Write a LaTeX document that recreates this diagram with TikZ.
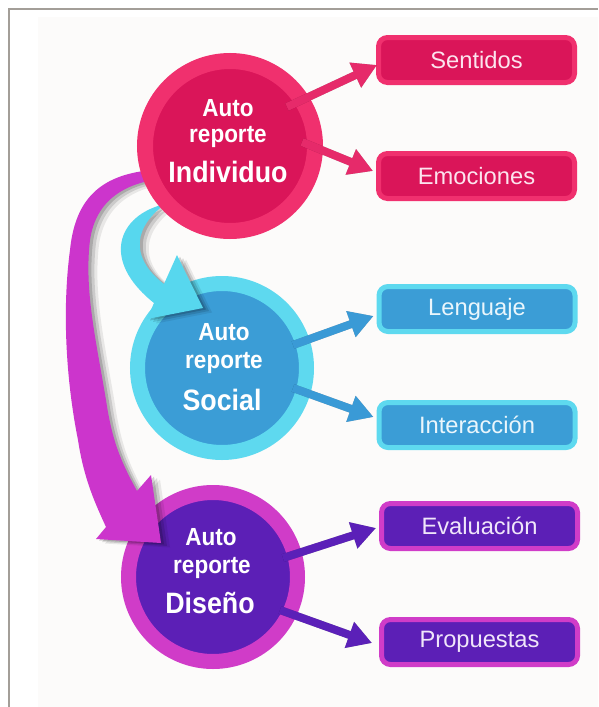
\documentclass[tikz,border=0pt]{standalone}
\usepackage{fontspec}
\setmainfont{Liberation Sans}
\usetikzlibrary{arrows.meta,calc}
\definecolor{pinkring}{HTML}{F0306E}
\definecolor{pinkin}{HTML}{DA1559}
\definecolor{pinkarrow}{HTML}{E62A6A}
\definecolor{pinktext}{HTML}{FCE4EE}
\definecolor{cyanring}{HTML}{5ED9EF}
\definecolor{bluein}{HTML}{3B9DD6}
\definecolor{bluearrow}{HTML}{3A9AD6}
\definecolor{bluetext}{HTML}{EAF6FC}
\definecolor{magring}{HTML}{D03CC8}
\definecolor{purpin}{HTML}{5C1FB6}
\definecolor{purparrow}{HTML}{5B20B8}
\definecolor{purptext}{HTML}{F0E6FA}
\definecolor{magbig}{HTML}{CC35CC}
\definecolor{cyanbig}{HTML}{57D7EE}
\definecolor{bgoff}{HTML}{FCFBFA}
\definecolor{framegray}{HTML}{A39E98}
\newcommand\tallt[1]{\scalebox{1}[1.1]{#1}}
\newcommand\magpath{(170,169) .. controls (110,170) and (76,190) .. (70,250) .. controls (62,310) and (66,380) .. (78,440) .. controls (84,480) and (96,505) .. (106,527) -- (96,539) -- (161,543) -- (151,475) -- (137,491) .. controls (120,460) and (112,440) .. (106,400) .. controls (96,340) and (84,290) .. (90,240) .. controls (96,200) and (125,181) .. (170,178) -- cycle}
\newcommand\cyanpath{(165,204) .. controls (118,215) and (100,260) .. (154,303) -- (147,319) -- (203,308) -- (177,255) -- (164,284) .. controls (135,262) and (128,232) .. (165,204) -- cycle}
\begin{document}
\begin{tikzpicture}[x=1pt,y=-1pt,
  ringnode/.style={circle, inner sep=0pt, minimum size=170pt, line width=16pt},
  boxnode/.style={rounded corners=9pt, line width=5pt, minimum width=196pt, minimum height=45pt, inner sep=0pt, font=\fontsize{23.7}{24}\selectfont},
  smalltxt/.style={text=white, inner sep=0pt, anchor=base, font=\bfseries\fontsize{22.5}{23}\selectfont},
  bigtxt/.style={text=white, inner sep=0pt, anchor=base, font=\bfseries\fontsize{26.8}{27}\selectfont},
  sarrow/.style={line width=8pt, -{Triangle[length=24pt,width=26pt]}},
  sshadow/.style={sarrow, black, opacity=0.3, shift={(1.5,3)}}
]
\useasboundingbox (0,0) rectangle (598,707);
\fill[white] (0,0) rectangle (598,707);
\fill[bgoff] (38,17) rectangle (598,707);
\draw[framegray, line width=1.5pt] (9,707) -- (9,9) -- (598,9);

% lower circles
\node[ringnode, draw=cyanring, fill=bluein, minimum size=169pt, line width=15pt] (soc) at (222,368) {};
\node[ringnode, draw=magring, fill=purpin, minimum size=169pt, line width=15pt] (dis) at (213,577) {};

% big curved arrows with soft shadows
\foreach \s/\o in {9/0.08, 6/0.12, 3/0.16} {
  \fill[black, opacity=\o, shift={(\s,\s/2)}] \magpath;
  \fill[black, opacity=\o, shift={(\s,\s/2)}] \cyanpath;
}
\fill[magbig] \magpath;
\fill[cyanbig] \cyanpath;

% top circle
\node[ringnode, draw=pinkring, fill=pinkin] (ind) at (230,146) {};

% boxes
\node[boxnode, draw=pinkring, fill=pinkin, text=pinktext] (sen) at (476.5,60) {Sentidos};
\node[boxnode, draw=pinkring, fill=pinkin, text=pinktext] (emo) at (476.5,176) {Emociones};
\node[boxnode, draw=cyanring, fill=bluein, text=bluetext] (len) at (477,309) {Lenguaje};
\node[boxnode, draw=cyanring, fill=bluein, text=bluetext] (int) at (477,425) {Interacción};
\node[boxnode, draw=magring, fill=purpin, text=purptext] (eva) at (479.5,526) {Evaluación};
\node[boxnode, draw=magring, fill=purpin, text=purptext] (pro) at (479.5,642) {Propuestas};

% arrow start points
\coordinate (indA) at (287,107);
\coordinate (indB) at (302,142);
\coordinate (socA) at (293,345);
\coordinate (socB) at (293,388);
\coordinate (disA) at (283,558);
\coordinate (disB) at (280,610);

% small arrows
\draw[sshadow] (indA) -- ($(sen.west)+(1,5)$);
\draw[sshadow] (indB) -- ($(emo.west)+(-3,-5)$);
\draw[sshadow] (socA) -- ($(len.west)+(-3,7)$);
\draw[sshadow] (socB) -- ($(int.west)+(-3,-8)$);
\draw[sshadow] (disA) -- ($(eva.west)+(-3,2)$);
\draw[sshadow] (disB) -- ($(pro.west)+(-7,1)$);
\draw[sarrow, pinkarrow] (indA) -- ($(sen.west)+(1,5)$);
\draw[sarrow, pinkarrow] (indB) -- ($(emo.west)+(-3,-5)$);
\draw[sarrow, bluearrow] (socA) -- ($(len.west)+(-3,7)$);
\draw[sarrow, bluearrow] (socB) -- ($(int.west)+(-3,-8)$);
\draw[sarrow, purparrow] (disA) -- ($(eva.west)+(-3,2)$);
\draw[sarrow, purparrow] (disB) -- ($(pro.west)+(-7,1)$);

% circle texts
\node[smalltxt] (ind1) at (228,116) {\tallt{Auto}};
\node[smalltxt] (ind2) at (228,142) {\tallt{reporte}};
\node[bigtxt] (ind3) at (228,182) {\tallt{Individuo}};
\node[smalltxt] (soc1) at (224,340) {\tallt{Auto}};
\node[smalltxt] (soc2) at (224,368) {\tallt{reporte}};
\node[bigtxt] (soc3) at (222,410) {\tallt{Social}};
\node[smalltxt] (dis1) at (211,545) {\tallt{Auto}};
\node[smalltxt] (dis2) at (212,573) {\tallt{reporte}};
\node[bigtxt] (dis3) at (210,613) {\tallt{Diseño}};
\end{tikzpicture}
\end{document}
